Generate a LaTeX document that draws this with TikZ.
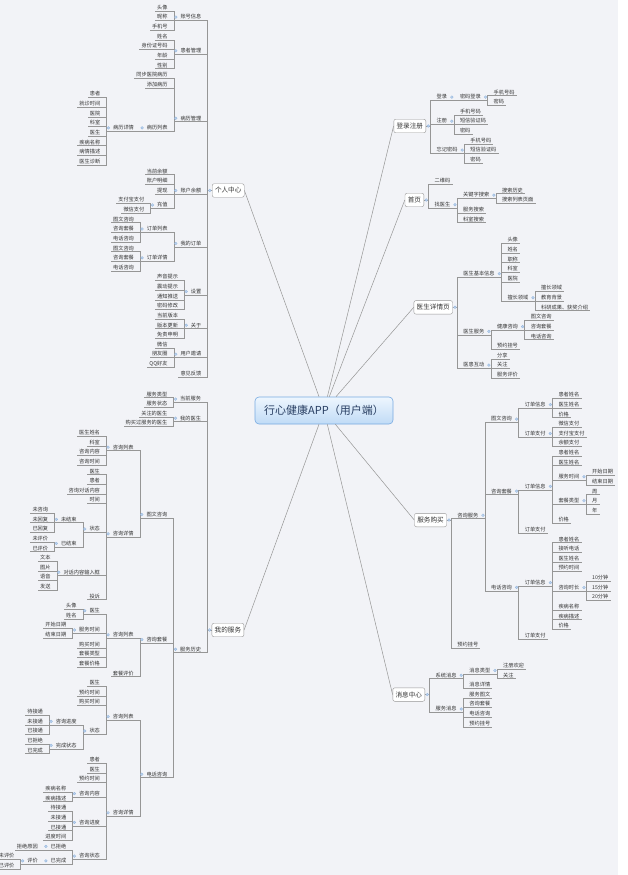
\documentclass[tikz,border=0pt]{standalone}
\usepackage{fontspec}
\setmainfont{Noto Sans CJK SC}
\definecolor{bg}{RGB}{242,243,247}
\definecolor{ln}{RGB}{150,150,150}
\definecolor{tx}{RGB}{51,51,51}
\definecolor{mkf}{RGB}{190,211,236}
\definecolor{mkd}{RGB}{145,180,222}
\definecolor{cbd}{RGB}{120,170,225}
\definecolor{ctop}{RGB}{238,246,254}
\definecolor{cbot}{RGB}{192,219,246}
\definecolor{ctx}{RGB}{40,62,98}
\tikzset{
 leaf/.style={font=\fontsize{5.2}{6}\selectfont, text=tx, inner xsep=2pt, inner ysep=0.7pt, text height=4.3pt, text depth=0.7pt},
 conn/.style={draw=ln, line width=0.55pt},
 mainnode/.style={draw=ln, fill=white, rounded corners=2pt, font=\fontsize{6.6}{8}\selectfont, text=tx, inner xsep=2.8pt, inner ysep=0pt, minimum height=13.5pt},
 hub/.style={draw=cbd, line width=0.6pt, top color=ctop, bottom color=cbot, rounded corners=4pt, font=\fontsize{11}{13}\selectfont, text=ctx, minimum width=138pt, minimum height=27pt, inner sep=0pt},
 mk/.style={fill=mkf, draw=mkd, line width=0.3pt},
 spoke/.style={draw=ln, line width=0.5pt}
}
\newcommand\rA[1]{7.5+9.63*#1}
\newcommand\rB[1]{394.3+9.62*#1}
\newcommand\rC[1]{92.3+9.63*#1}
\newcommand\rD[1]{180.7+9.63*#1}
\newcommand\rE[1]{240+9.62*#1}
\newcommand\rF[1]{395+9.62*#1}
\newcommand\rG[1]{665.7+9.62*#1}
% left child: name, exit point, text-centre y, text
\newcommand\LN[4]{%
 \path ([xshift=-4.5pt]#2) coordinate (sx) ([xshift=-8.5pt]#2) coordinate (nx) (0,{#3+3.4}) coordinate (sy);
 \node[leaf,anchor=south east] (#1) at (nx |- sy) {#4};
 \draw[conn] (#2) -- (sx |- #2) -- (sx |- sy) -- (#1.south west);
}
% right child
\newcommand\RN[4]{%
 \path ([xshift=4.5pt]#2) coordinate (sx) ([xshift=8.5pt]#2) coordinate (nx) (0,{#3+3.4}) coordinate (sy);
 \node[leaf,anchor=south west] (#1) at (nx |- sy) {#4};
 \draw[conn] (#2) -- (sx |- #2) -- (sx |- sy) -- (#1.south east);
}
\newcommand\ML[1]{\filldraw[mk] ([xshift=-2.5pt]#1.west) circle (1.4pt);}
\newcommand\MR[1]{\filldraw[mk] ([xshift=2.5pt]#1.east) circle (1.4pt);}
\begin{document}
\begin{tikzpicture}[x=1pt,y=-1pt]
\useasboundingbox (0,0) rectangle (627,875);
\fill[bg] (0,0) rectangle (618,875);
\fill[white] (618,0) rectangle (627,875);

\node[hub] (C) at (324,410.5) {行心健康APP（用户端）};
\node[mainnode, anchor=west] (M1) at (212,\rA{19}) {个人中心};
\node[mainnode, anchor=west] (M2) at (211.7,\rB{24.5}) {我的服务};
\node[mainnode, anchor=east] (R1) at (426,\rC{3.5}) {登录注册};
\node[mainnode, anchor=east] (R2) at (424,\rD{2}) {首页};
\node[mainnode, anchor=east] (R3) at (452.7,\rE{7}) {医生详情页};
\node[mainnode, anchor=east] (R4) at (446.7,\rF{13}) {服务购买};
\node[mainnode, anchor=east] (R5) at (425,\rG{3}) {消息中心};

\draw[spoke] (C) -- (M1.east);
\draw[spoke] (C) -- (M2.east);
\draw[spoke] (C) -- (R1.west);
\draw[spoke] (C) -- (R2.west);
\draw[spoke] (C) -- (R3.west);
\draw[spoke] (C) -- (R4.west);
\draw[spoke] (C) -- (R5.west);

% ===== 个人中心 =====
\LN{a1}{M1.west}{\rA{1}}{账号信息}
\LN{a11}{a1.south west}{\rA{0}}{头像}
\LN{a12}{a1.south west}{\rA{1}}{昵称}
\LN{a13}{a1.south west}{\rA{2}}{手机号}
\LN{a2}{M1.west}{\rA{4.5}}{患者管理}
\LN{a21}{a2.south west}{\rA{3}}{姓名}
\LN{a22}{a2.south west}{\rA{4}}{身份证号码}
\LN{a23}{a2.south west}{\rA{5}}{年龄}
\LN{a24}{a2.south west}{\rA{6}}{性别}
\LN{a3}{M1.west}{\rA{11.5}}{病历管理}
\LN{a31}{a3.south west}{\rA{7}}{同步医院病历}
\LN{a32}{a3.south west}{\rA{8}}{添加病历}
\LN{a33}{a3.south west}{\rA{12.5}}{病历列表}
\LN{a34}{a33.south west}{\rA{12.5}}{病历详情}
\LN{a341}{a34.south west}{\rA{9}}{患者}
\LN{a342}{a34.south west}{\rA{10}}{就诊时间}
\LN{a343}{a34.south west}{\rA{11}}{医院}
\LN{a344}{a34.south west}{\rA{12}}{科室}
\LN{a345}{a34.south west}{\rA{13}}{医生}
\LN{a346}{a34.south west}{\rA{14}}{疾病名称}
\LN{a347}{a34.south west}{\rA{15}}{病情描述}
\LN{a348}{a34.south west}{\rA{16}}{医生诊断}
\LN{a4}{M1.west}{\rA{19}}{账户余额}
\LN{a41}{a4.south west}{\rA{17}}{当前余额}
\LN{a42}{a4.south west}{\rA{18}}{账户明细}
\LN{a43}{a4.south west}{\rA{19}}{提现}
\LN{a44}{a4.south west}{\rA{20.5}}{充值}
\LN{a441}{a44.south west}{\rA{20}}{支付宝支付}
\LN{a442}{a44.south west}{\rA{21}}{微信支付}
\LN{a5}{M1.west}{\rA{24.5}}{我的订单}
\LN{a51}{a5.south west}{\rA{23}}{订单列表}
\LN{a511}{a51.south west}{\rA{22}}{图文咨询}
\LN{a512}{a51.south west}{\rA{23}}{咨询套餐}
\LN{a513}{a51.south west}{\rA{24}}{电话咨询}
\LN{a52}{a5.south west}{\rA{26}}{订单详情}
\LN{a521}{a52.south west}{\rA{25}}{图文咨询}
\LN{a522}{a52.south west}{\rA{26}}{咨询套餐}
\LN{a523}{a52.south west}{\rA{27}}{电话咨询}
\LN{a6}{M1.west}{\rA{29.5}}{设置}
\LN{a61}{a6.south west}{\rA{28}}{声音提示}
\LN{a62}{a6.south west}{\rA{29}}{震动提示}
\LN{a63}{a6.south west}{\rA{30}}{通知推送}
\LN{a64}{a6.south west}{\rA{31}}{密码修改}
\LN{a7}{M1.west}{\rA{33}}{关于}
\LN{a71}{a7.south west}{\rA{32}}{当前版本}
\LN{a72}{a7.south west}{\rA{33}}{版本更新}
\LN{a73}{a7.south west}{\rA{34}}{免责申明}
\LN{a8}{M1.west}{\rA{36}}{用户邀请}
\LN{a81}{a8.south west}{\rA{35}}{微信}
\LN{a82}{a8.south west}{\rA{36}}{朋友圈}
\LN{a83}{a8.south west}{\rA{37}}{QQ好友}
\LN{a9}{M1.west}{\rA{38}}{意见反馈}
\filldraw[mk] ([xshift=-2.3pt]M1.west) circle (1.4pt);
\ML{a1}\ML{a2}\ML{a3}\ML{a33}\ML{a34}\ML{a4}\ML{a44}\ML{a5}\ML{a51}\ML{a52}\ML{a6}\ML{a7}\ML{a8}

% ===== 我的服务 =====
\LN{b1}{M2.west}{\rB{0.5}}{当前服务}
\LN{b11}{b1.south west}{\rB{0}}{服务类型}
\LN{b12}{b1.south west}{\rB{1}}{服务状态}
\LN{b2}{M2.west}{\rB{2.5}}{我的医生}
\LN{b21}{b2.south west}{\rB{2}}{关注的医生}
\LN{b22}{b2.south west}{\rB{3}}{购买过服务的医生}
\LN{b3}{M2.west}{\rB{26.5}}{服务历史}
\LN{b31}{b3.south west}{\rB{12.5}}{图文咨询}
\LN{b311}{b31.south west}{\rB{5.5}}{咨询列表}
\LN{b3111}{b311.south west}{\rB{4}}{医生姓名}
\LN{b3112}{b311.south west}{\rB{5}}{科室}
\LN{b3113}{b311.south west}{\rB{6}}{咨询内容}
\LN{b3114}{b311.south west}{\rB{7}}{咨询时间}
\LN{b312}{b31.south west}{\rB{14.5}}{咨询详情}
\LN{b3121}{b312.south west}{\rB{8}}{医生}
\LN{b3122}{b312.south west}{\rB{9}}{患者}
\LN{b3123}{b312.south west}{\rB{10}}{咨询对话内容}
\LN{b3124}{b312.south west}{\rB{11}}{时间}
\LN{b3125}{b312.south west}{\rB{14}}{状态}
\LN{b31251}{b3125.south west}{\rB{13}}{未结束}
\LN{b312511}{b31251.south west}{\rB{12}}{未咨询}
\LN{b312512}{b31251.south west}{\rB{13}}{未回复}
\LN{b312513}{b31251.south west}{\rB{14}}{已回复}
\LN{b31252}{b3125.south west}{\rB{15.5}}{已结束}
\LN{b312521}{b31252.south west}{\rB{15}}{未评价}
\LN{b312522}{b31252.south west}{\rB{16}}{已评价}
\LN{b3126}{b312.south west}{\rB{18.5}}{对话内容输入框}
\LN{b31261}{b3126.south west}{\rB{17}}{文本}
\LN{b31262}{b3126.south west}{\rB{18}}{图片}
\LN{b31263}{b3126.south west}{\rB{19}}{语音}
\LN{b31264}{b3126.south west}{\rB{20}}{发送}
\LN{b3127}{b312.south west}{\rB{21}}{投诉}
\LN{b32}{b3.south west}{\rB{25.5}}{咨询套餐}
\LN{b321}{b32.south west}{\rB{25}}{咨询列表}
\LN{b3211}{b321.south west}{\rB{22.5}}{医生}
\LN{b32111}{b3211.south west}{\rB{22}}{头像}
\LN{b32112}{b3211.south west}{\rB{23}}{姓名}
\LN{b3212}{b321.south west}{\rB{24.5}}{服务时间}
\LN{b32121}{b3212.south west}{\rB{24}}{开始日期}
\LN{b32122}{b3212.south west}{\rB{25}}{结束日期}
\LN{b3213}{b321.south west}{\rB{26}}{购买时间}
\LN{b3214}{b321.south west}{\rB{27}}{套餐类型}
\LN{b3215}{b321.south west}{\rB{28}}{套餐价格}
\LN{b322}{b32.south west}{\rB{29}}{套餐评价}
\LN{b33}{b3.south west}{\rB{39.5}}{电话咨询}
\LN{b331}{b33.south west}{\rB{33.5}}{咨询列表}
\LN{b3311}{b331.south west}{\rB{30}}{医生}
\LN{b3312}{b331.south west}{\rB{31}}{预约时间}
\LN{b3313}{b331.south west}{\rB{32}}{购买时间}
\LN{b3314}{b331.south west}{\rB{35}}{状态}
\LN{b33141}{b3314.south west}{\rB{34}}{咨询进度}
\LN{b331411}{b33141.south west}{\rB{33}}{待接通}
\LN{b331412}{b33141.south west}{\rB{34}}{未接通}
\LN{b331413}{b33141.south west}{\rB{35}}{已接通}
\LN{b33142}{b3314.south west}{\rB{36.5}}{完成状态}
\LN{b331421}{b33142.south west}{\rB{36}}{已拒绝}
\LN{b331422}{b33142.south west}{\rB{37}}{已完成}
\LN{b332}{b33.south west}{\rB{43.5}}{咨询详情}
\LN{b3321}{b332.south west}{\rB{38}}{患者}
\LN{b3322}{b332.south west}{\rB{39}}{医生}
\LN{b3323}{b332.south west}{\rB{40}}{预约时间}
\LN{b3324}{b332.south west}{\rB{41.5}}{咨询内容}
\LN{b33241}{b3324.south west}{\rB{41}}{疾病名称}
\LN{b33242}{b3324.south west}{\rB{42}}{疾病描述}
\LN{b3325}{b332.south west}{\rB{44.5}}{咨询进度}
\LN{b33251}{b3325.south west}{\rB{43}}{待接通}
\LN{b33252}{b3325.south west}{\rB{44}}{未接通}
\LN{b33253}{b3325.south west}{\rB{45}}{已接通}
\LN{b33254}{b3325.south west}{\rB{46}}{进度时间}
\LN{b3326}{b332.south west}{\rB{48}}{咨询状态}
\LN{b33261}{b3326.south west}{\rB{47}}{已拒绝}
\LN{b332611}{b33261.south west}{\rB{47}}{拒绝原因}
\LN{b33262}{b3326.south west}{\rB{48.5}}{已完成}
\LN{b332621}{b33262.south west}{\rB{48.5}}{评价}
\LN{b3326211}{b332621.south west}{\rB{48}}{未评价}
\LN{b3326212}{b332621.south west}{\rB{49}}{已评价}
\filldraw[mk] ([xshift=-2.3pt]M2.west) circle (1.4pt);
\ML{b1}\ML{b2}\ML{b3}\ML{b31}\ML{b311}\ML{b312}\ML{b3125}\ML{b31251}\ML{b31252}\ML{b3126}
\ML{b32}\ML{b321}\ML{b3211}\ML{b3212}\ML{b33}\ML{b331}\ML{b3314}\ML{b33141}\ML{b33142}
\ML{b332}\ML{b3324}\ML{b3325}\ML{b3326}\ML{b33261}\ML{b33262}\ML{b332621}

% ===== 登录注册 =====
\RN{c1}{R1.east}{\rC{0.5}}{登录}
\RN{c11}{c1.south east}{\rC{0.5}}{密码登录}
\RN{c111}{c11.south east}{\rC{0}}{手机号码}
\RN{c112}{c11.south east}{\rC{1}}{密码}
\RN{c2}{R1.east}{\rC{3}}{注册}
\RN{c21}{c2.south east}{\rC{2}}{手机号码}
\RN{c22}{c2.south east}{\rC{3}}{短信验证码}
\RN{c23}{c2.south east}{\rC{4}}{密码}
\RN{c3}{R1.east}{\rC{6}}{忘记密码}
\RN{c31}{c3.south east}{\rC{5}}{手机号码}
\RN{c32}{c3.south east}{\rC{6}}{短信验证码}
\RN{c33}{c3.south east}{\rC{7}}{密码}
\filldraw[mk] ([xshift=2.3pt]R1.east) circle (1.4pt);
\MR{c1}\MR{c11}\MR{c2}\MR{c3}

% ===== 首页 =====
\RN{d1}{R2.east}{\rD{0}}{二维码}
\RN{d2}{R2.east}{\rD{2.5}}{找医生}
\RN{d21}{d2.south east}{\rD{1.5}}{关键字搜索}
\RN{d211}{d21.south east}{\rD{1}}{搜索历史}
\RN{d212}{d21.south east}{\rD{2}}{搜索列表页面}
\RN{d22}{d2.south east}{\rD{3}}{服务搜索}
\RN{d23}{d2.south east}{\rD{4}}{科室搜索}
\filldraw[mk] ([xshift=2.3pt]R2.east) circle (1.4pt);
\MR{d2}\MR{d21}

% ===== 医生详情页 =====
\RN{e1}{R3.east}{\rE{3.5}}{医生基本信息}
\RN{e11}{e1.south east}{\rE{0}}{头像}
\RN{e12}{e1.south east}{\rE{1}}{姓名}
\RN{e13}{e1.south east}{\rE{2}}{职称}
\RN{e14}{e1.south east}{\rE{3}}{科室}
\RN{e15}{e1.south east}{\rE{4}}{医院}
\RN{e16}{e1.south east}{\rE{6}}{擅长领域}
\RN{e161}{e16.south east}{\rE{5}}{擅长领域}
\RN{e162}{e16.south east}{\rE{6}}{教育背景}
\RN{e163}{e16.south east}{\rE{7}}{科研成果、获奖介绍}
\RN{e2}{R3.east}{\rE{9.5}}{医生服务}
\RN{e21}{e2.south east}{\rE{9}}{健康咨询}
\RN{e211}{e21.south east}{\rE{8}}{图文咨询}
\RN{e212}{e21.south east}{\rE{9}}{咨询套餐}
\RN{e213}{e21.south east}{\rE{10}}{电话咨询}
\RN{e22}{e2.south east}{\rE{11}}{预约挂号}
\RN{e3}{R3.east}{\rE{13}}{医患互动}
\RN{e31}{e3.south east}{\rE{12}}{分享}
\RN{e32}{e3.south east}{\rE{13}}{关注}
\RN{e33}{e3.south east}{\rE{14}}{服务评价}
\filldraw[mk] ([xshift=2.3pt]R3.east) circle (1.4pt);
\MR{e1}\MR{e16}\MR{e2}\MR{e21}\MR{e3}

% ===== 服务购买 =====
\RN{f1}{R4.east}{\rF{12.5}}{咨询服务}
\RN{f11}{f1.south east}{\rF{2.5}}{图文咨询}
\RN{f111}{f11.south east}{\rF{1}}{订单信息}
\RN{f1111}{f111.south east}{\rF{0}}{患者姓名}
\RN{f1112}{f111.south east}{\rF{1}}{医生姓名}
\RN{f1113}{f111.south east}{\rF{2}}{价格}
\RN{f112}{f11.south east}{\rF{4}}{订单支付}
\RN{f1121}{f112.south east}{\rF{3}}{微信支付}
\RN{f1122}{f112.south east}{\rF{4}}{支付宝支付}
\RN{f1123}{f112.south east}{\rF{5}}{余额支付}
\RN{f12}{f1.south east}{\rF{10}}{咨询套餐}
\RN{f121}{f12.south east}{\rF{9.5}}{订单信息}
\RN{f1211}{f121.south east}{\rF{6}}{患者姓名}
\RN{f1212}{f121.south east}{\rF{7}}{医生姓名}
\RN{f1213}{f121.south east}{\rF{8.5}}{服务时间}
\RN{f12131}{f1213.south east}{\rF{8}}{开始日期}
\RN{f12132}{f1213.south east}{\rF{9}}{结束日期}
\RN{f1214}{f121.south east}{\rF{11}}{套餐类型}
\RN{f12141}{f1214.south east}{\rF{10}}{周}
\RN{f12142}{f1214.south east}{\rF{11}}{月}
\RN{f12143}{f1214.south east}{\rF{12}}{年}
\RN{f1215}{f121.south east}{\rF{13}}{价格}
\RN{f122}{f12.south east}{\rF{14}}{订单支付}
\RN{f13}{f1.south east}{\rF{20}}{电话咨询}
\RN{f131}{f13.south east}{\rF{19.5}}{订单信息}
\RN{f1311}{f131.south east}{\rF{15}}{患者姓名}
\RN{f1312}{f131.south east}{\rF{16}}{接听电话}
\RN{f1313}{f131.south east}{\rF{17}}{医生姓名}
\RN{f1314}{f131.south east}{\rF{18}}{预约时间}
\RN{f1315}{f131.south east}{\rF{20}}{咨询时长}
\RN{f13151}{f1315.south east}{\rF{19}}{10分钟}
\RN{f13152}{f1315.south east}{\rF{20}}{15分钟}
\RN{f13153}{f1315.south east}{\rF{21}}{20分钟}
\RN{f1316}{f131.south east}{\rF{22}}{疾病名称}
\RN{f1317}{f131.south east}{\rF{23}}{疾病描述}
\RN{f1318}{f131.south east}{\rF{24}}{价格}
\RN{f132}{f13.south east}{\rF{25}}{订单支付}
\RN{f2}{R4.east}{\rF{26}}{预约挂号}
\filldraw[mk] ([xshift=2.3pt]R4.east) circle (1.4pt);
\MR{f1}\MR{f11}\MR{f111}\MR{f112}\MR{f12}\MR{f121}\MR{f1213}\MR{f1214}\MR{f13}\MR{f131}\MR{f1315}

% ===== 消息中心 =====
\RN{g1}{R5.east}{\rG{1}}{系统消息}
\RN{g11}{g1.south east}{\rG{0.5}}{消息类型}
\RN{g111}{g11.south east}{\rG{0}}{注册欢迎}
\RN{g112}{g11.south east}{\rG{1}}{关注}
\RN{g12}{g1.south east}{\rG{2}}{消息详情}
\RN{g2}{R5.east}{\rG{4.5}}{服务消息}
\RN{g21}{g2.south east}{\rG{3}}{服务图文}
\RN{g22}{g2.south east}{\rG{4}}{咨询套餐}
\RN{g23}{g2.south east}{\rG{5}}{电话咨询}
\RN{g24}{g2.south east}{\rG{6}}{预约挂号}
\filldraw[mk] ([xshift=2.3pt]R5.east) circle (1.4pt);
\MR{g1}\MR{g11}\MR{g2}
\end{tikzpicture}
\end{document}
